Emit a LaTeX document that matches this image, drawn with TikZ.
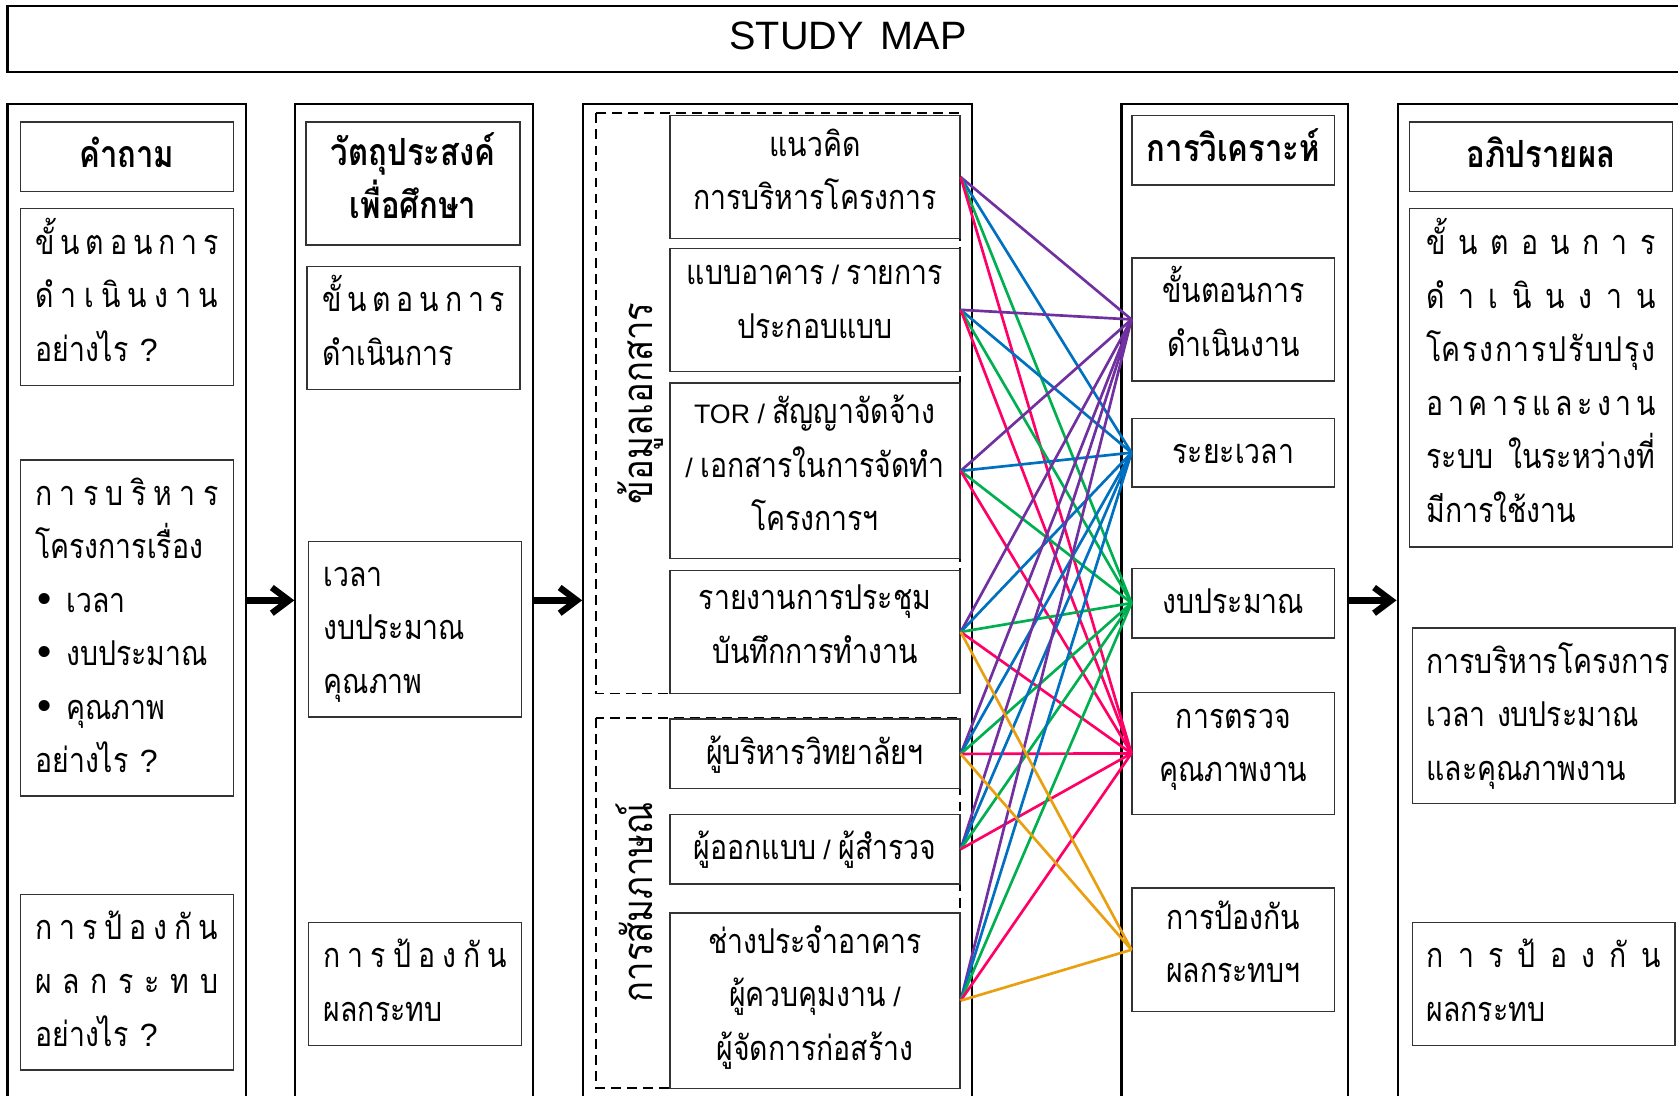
\documentclass[tikz,border=0pt]{standalone}
\usepackage{fontspec}
\setmainfont[Script=Thai,FakeStretch=0.83]{Loma}
\newfontfamily\latf{Liberation Sans}
\usetikzlibrary{arrows.meta}
\definecolor{cpur}{HTML}{7030A0}
\definecolor{cblu}{HTML}{0070C0}
\definecolor{cgrn}{HTML}{00B050}
\definecolor{cred}{HTML}{FF0066}
\definecolor{corg}{HTML}{E8A010}
\newcommand\bodyfont{\fontsize{16}{25}\selectfont}
\newcommand\lat[1]{{\latf\fontsize{12.5}{25}\selectfont #1}}
\newcommand\qm{{\latf\fontsize{15}{25}\selectfont ?}}
\newcommand\dist[1]{\makebox[\hsize][s]{#1}}
\newcommand\bul{\makebox[14.5pt][l]{\hspace{1pt}{\latf\fontsize{19}{25}\selectfont •}}}
\begin{document}
\begin{tikzpicture}[x=0.5pt,y=-0.5pt,
  every node/.style={font=\bodyfont, execute at begin node={\parindent=0pt\strut}, execute at end node=\strut},
  colbox/.style={draw, line width=1pt, minimum height=464pt, minimum width=#1, inner sep=0pt},
  bx/.style={draw=black!80, line width=0.7pt, fill=white, inner ysep=0pt, minimum height=#1},
  L1/.style={bx=#1, text width=85.5pt, inner xsep=7pt, align=left},
  C3/.style={bx=#1, minimum width=135.5pt, inner xsep=0pt, align=center},
  C4/.style={bx=#1, minimum width=94.5pt, inner xsep=0pt, align=center},
  hdr/.style={font=\fontsize{17.5}{25}\selectfont\bfseries},
  vlab/.style={rotate=90, font=\fontsize{19.5}{25}\selectfont},
  grp/.style={dash pattern=on 4.5pt off 3pt, line width=0.9pt},
  ln/.style={line width=1.25pt},
  bigarr/.style={line width=3pt, -{Straight Barb[length=8pt,width=12pt]}}
]
\useasboundingbox (0,0) rectangle (1568,1024);
\clip (0,0) rectangle (1568,1024);

% title
\node[draw, line width=1pt, minimum width=785.5pt, minimum height=30.5pt, inner sep=0pt,
      font=\latf\fontsize{18.5}{25}\selectfont] (title) at (792.5,36.5) {STUDY\hspace{8pt}MAP};

% columns
\node[colbox=111.5pt] (c1) at (118.5,561) {};
\node[colbox=111pt]   (c2) at (387,561) {};
\node[colbox=181.5pt] (c3) at (726.5,561) {};
\node[colbox=106pt]   (c4) at (1154,561) {};
\node[colbox=142pt]   (c5) at (1448,561) {};

% column 1
\node[bx=32.5pt, minimum width=99.5pt, hdr] (q0) at (118.5,146.5) {คำถาม};
\node[L1=82.5pt] (q1) at (118.5,277.5) {\dist{ขั้\hfil น\hfil ต\hfil อ\hfil น\hfil ก\hfil า\hfil ร}\\
 \dist{ดํ\hfil า\hfil เ\hfil นิ\hfil น\hfil ง\hfil า\hfil น}\\
 อย่างไร \qm};
\node[L1=157pt] (q2) at (118.5,587) {\dist{ก\hfil า\hfil ร\hfil บ\hfil ริ\hfil ห\hfil า\hfil ร}\\
 โครงการเรื่อง\\
 \bul เวลา\\
 \bul งบประมาณ\\
 \bul คุณภาพ\\
 อย่างไร \qm};
\node[L1=82pt] (q3) at (118.5,918) {\dist{ก\hfil า\hfil ร\hfil ป้\hfil อ\hfil ง\hfil กั\hfil น}\\
 \dist{ผ\hfil ล\hfil ก\hfil ร\hfil ะ\hfil ท\hfil บ}\\
 อย่างไร \qm};

% column 2
\node[bx=57.5pt, minimum width=100pt, hdr, align=center] (o0) at (386,171.5) {วัตถุประสงค์\\เพื่อศึกษา};
\node[L1=57.5pt] (o1) at (386.5,306.5) {\dist{ขั้\hfil น\hfil ต\hfil อ\hfil น\hfil ก\hfil า\hfil ร}\\ดำเนินการ};
\node[L1=82pt] (o2) at (388,588) {เวลา\\งบประมาณ\\คุณภาพ};
\node[L1=57.5pt] (o3) at (388,919.5) {\dist{ก\hfil า\hfil ร\hfil ป้\hfil อ\hfil ง\hfil กั\hfil น}\\ผลกระทบ};

% column 3 groups
\draw[grp] (557,106) rectangle (897,648);
\draw[grp] (557,671) rectangle (897,1017);
\node[vlab] (g1) at (600,377) {ข้อมูลเอกสาร};
\node[vlab] (g2) at (600,843) {การสัมภาษณ์};

\node[C3=57.5pt] (s1) at (761.5,165.5) {แนวคิด\\การบริหารโครงการ};
\node[C3=57.5pt] (s2) at (761.5,289.5) {แบบอาคาร\lat{ / }รายการ\\ประกอบแบบ};
\node[C3=82pt]   (s3) at (761.5,440) {\lat{TOR / }สัญญาจัดจ้าง\\\lat{/ }เอกสารในการจัดทำ\\โครงการฯ};
\node[C3=57.5pt] (s4) at (761.5,590.5) {รายงานการประชุม\\บันทึกการทำงาน};
\node[C3=32.5pt] (s5) at (761.5,704.5) {ผู้บริหารวิทยาลัยฯ};
\node[C3=32.5pt] (s6) at (761.5,793.5) {ผู้ออกแบบ\lat{ / }ผู้สำรวจ};
\node[C3=82pt]   (s7) at (761.5,935) {ช่างประจำอาคาร\\ผู้ควบคุมงาน\lat{ /}\\ผู้จัดการก่อสร้าง};

% column 4
\node[C4=32.5pt, hdr] (a0) at (1152.5,140.5) {การวิเคราะห์};
\node[C4=57.5pt] (t1) at (1152.5,298.5) {ขั้นตอนการ\\ดำเนินงาน};
\node[C4=32pt]   (t2) at (1152.5,423) {ระยะเวลา};
\node[C4=32.5pt] (t3) at (1152.5,563.5) {งบประมาณ};
\node[C4=57pt]   (t4) at (1152.5,704) {การตรวจ\\คุณภาพงาน};
\node[C4=57.5pt] (t5) at (1152.5,887.5) {การป้องกัน\\ผลกระทบฯ};

% column 5
\node[bx=32.5pt, minimum width=123pt, hdr] (d0) at (1440,146.5) {อภิปรายผล};
\node[bx=158pt, text width=107pt, inner xsep=8pt, align=left] (d1) at (1440,353) {\dist{ขั้\hfil น\hfil ต\hfil อ\hfil น\hfil ก\hfil า\hfil ร}\\
 \dist{ดํ\hfil า\hfil เ\hfil นิ\hfil น\hfil ง\hfil า\hfil น}\\
 \dist{โค\hfil ร\hfil ง\hfil ก\hfil า\hfil ร\hfil ป\hfil รั\hfil บ\hfil ป\hfil รุ\hfil ง}\\
 \dist{อ\hfil า\hfil ค\hfil า\hfil ร\hfil แ\hfil ล\hfil ะ\hfil ง\hfil า\hfil น}\\
 \dist{ระบบ\hfil ในระหว่างที่}\\
 มีการใช้งาน};
\node[bx=82pt, text width=109.5pt, inner xsep=6.5pt, align=left] (d2) at (1442.5,669) {การบริหารโครงการ\\\mbox{เวลา งบประมาณ}\\และคุณภาพงาน};
\node[bx=57.5pt, text width=109.5pt, inner xsep=6.5pt, align=left] (d3) at (1442.5,919.5) {\dist{ก\hfil า\hfil ร\hfil ป้\hfil อ\hfil ง\hfil กั\hfil น}\\ผลกระทบ};

% big arrows
\draw[bigarr] (c1.east) -- (c2.west);
\draw[bigarr] (c2.east) -- (c3.west);
\draw[bigarr] (c4.east) -- (c5.west);

% connectors
\foreach \s in {s1,s2,s3,s4,s5,s6,s7} {
  \draw[ln, cpur] (\s.east) -- (t1.west);
  \draw[ln, cblu] (\s.east) -- (t2.west);
  \draw[ln, cgrn] (\s.east) -- (t3.west);
  \draw[ln, cred] (\s.east) -- (t4.west);
}
\foreach \s in {s4,s5,s7} {
  \draw[ln, corg] (\s.east) -- (t5.west);
}
\end{tikzpicture}
\end{document}
